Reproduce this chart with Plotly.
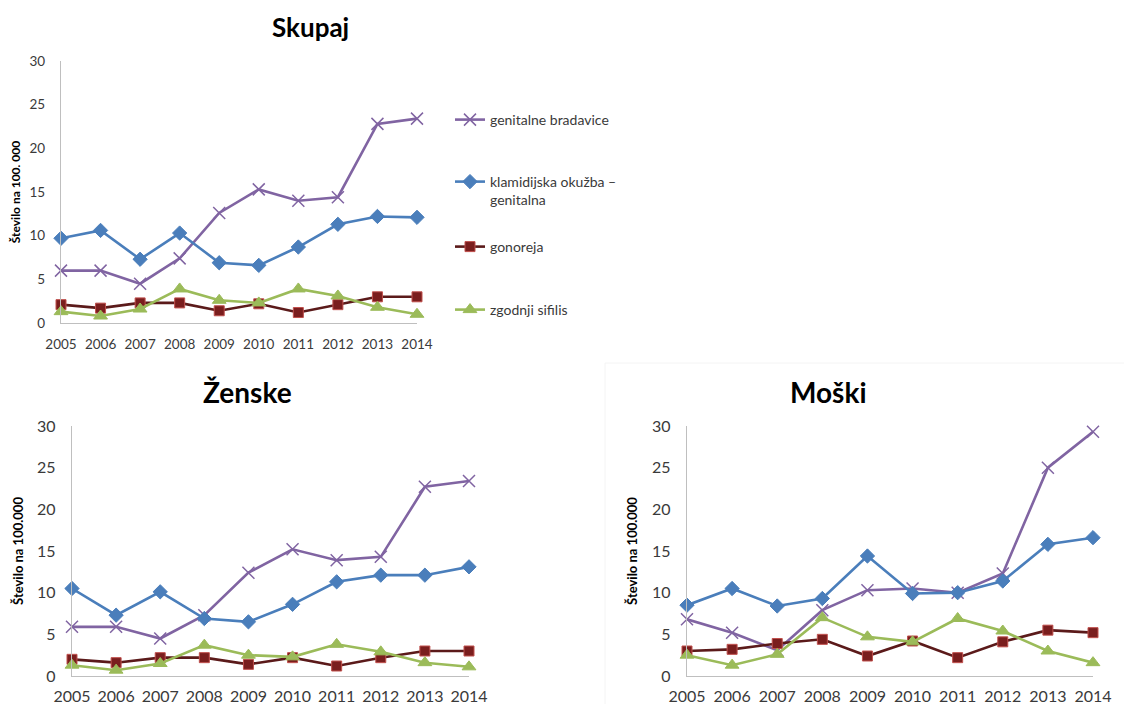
import plotly.graph_objects as go

years = [2005, 2006, 2007, 2008, 2009, 2010, 2011, 2012, 2013, 2014]
series_names = ["genitalne bradavice", "klamidijska okužba –<br>genitalna", "gonoreja", "zgodnji sifilis"]

# Skupaj
skupaj_bradavice = [6.0, 6.0, 4.5, 7.4, 12.6, 15.3, 14.0, 14.4, 22.8, 23.4]
skupaj_klamidija = [9.7, 10.6, 7.3, 10.3, 6.9, 6.6, 8.7, 11.3, 12.2, 12.1]
skupaj_gonoreja = [2.1, 1.7, 2.3, 2.3, 1.4, 2.2, 1.2, 2.1, 3.0, 3.0]
skupaj_sifilis = [1.3, 0.8, 1.6, 3.9, 2.6, 2.3, 3.9, 3.1, 1.8, 1.0]

# Ženske
zenske_bradavice = [5.9, 5.9, 4.5, 7.3, 12.4, 15.2, 13.9, 14.3, 22.7, 23.4]
zenske_klamidija = [10.5, 7.3, 10.1, 6.9, 6.5, 8.6, 11.3, 12.1, 12.1, 13.1]
zenske_gonoreja = [2.0, 1.6, 2.2, 2.2, 1.4, 2.2, 1.2, 2.2, 3.0, 3.0]
zenske_sifilis = [1.3, 0.7, 1.5, 3.7, 2.5, 2.3, 3.8, 2.9, 1.6, 1.1]

# Moški
moski_bradavice = [6.8, 5.2, 3.1, 7.9, 10.3, 10.5, 10.0, 12.3, 25.0, 29.3]
moski_klamidija = [8.5, 10.5, 8.4, 9.3, 14.4, 9.9, 10.0, 11.4, 15.8, 16.6]
moski_gonoreja = [3.0, 3.2, 3.9, 4.4, 2.4, 4.2, 2.2, 4.1, 5.5, 5.2]
moski_sifilis = [2.5, 1.3, 2.6, 7.0, 4.7, 4.1, 6.9, 5.4, 3.0, 1.6]

W, H = 1132, 704
OFF = 8  # page body margin
FONT = "Lato"

styles = [
    dict(line=dict(color="#8064A2", width=2.6),
         marker=dict(symbol="x-thin-open", size=12, line=dict(color="#8064A2", width=1.5), color="#8064A2")),
    dict(line=dict(color="#4A7EBB", width=2.6),
         marker=dict(symbol="diamond", size=11, color="#4A7EBB", line=dict(color="#4A7EBB", width=1))),
    dict(line=dict(color="#5B1A1A", width=2.6),
         marker=dict(symbol="square", size=10, color="#7A1E1E", line=dict(color="#C0504D", width=1))),
    dict(line=dict(color="#9BBB59", width=2.6),
         marker=dict(symbol="triangle-up", size=12, color="#9BBB59", line=dict(color="#9BBB59", width=1))),
]

fig = go.Figure()

panels = [
    ("x", "y", [skupaj_bradavice, skupaj_klamidija, skupaj_gonoreja, skupaj_sifilis], True),
    ("x2", "y2", [zenske_bradavice, zenske_klamidija, zenske_gonoreja, zenske_sifilis], False),
    ("x3", "y3", [moski_bradavice, moski_klamidija, moski_gonoreja, moski_sifilis], False),
]
legend_ids = ["legend", "legend2", "legend3", "legend4"]

for xa, ya, data, show in panels:
    for i, vals in enumerate(data):
        fig.add_trace(go.Scatter(
            x=years, y=vals, mode="lines+markers", name=series_names[i],
            xaxis=xa, yaxis=ya, cliponaxis=False,
            showlegend=show, legend=legend_ids[i],
            **styles[i]))

def px_x(p):
    return (p - OFF) / W

def px_y(p):
    return 1 - (p - OFF) / H

def xaxis(dom, anchor, size, standoff):
    return dict(domain=dom, anchor=anchor, automargin=False,
                range=[2005, 2014], tickmode="array", tickvals=years,
                ticktext=[str(y) for y in years], showgrid=False, zeroline=False,
                showline=True, linecolor="#BFBFBF", linewidth=1.3, ticks="",
                ticklabelstandoff=standoff, tickfont=dict(family=FONT, size=size, color="#3A3A3A"))

def yaxis(dom, anchor, size, title, tsize, tstandoff):
    return dict(domain=dom, anchor=anchor, automargin=False,
                range=[0, 30], dtick=5, showgrid=False, zeroline=False,
                showline=True, linecolor="#BFBFBF", linewidth=1.3, ticks="",
                ticklabelstandoff=12, tickfont=dict(family=FONT, size=size, color="#3A3A3A"),
                title=dict(text=f"<b>{title}</b>", font=dict(family=FONT, size=tsize, color="#000000"),
                           standoff=tstandoff))

fig.update_layout(
    width=W, height=H,
    margin=dict(l=0, r=0, t=0, b=0),
    paper_bgcolor="white", plot_bgcolor="white",
    font=dict(family=FONT, color="#404040"),
    xaxis=xaxis([px_x(61), px_x(417)], "y", 13.5, 9),
    yaxis=yaxis([px_y(323), px_y(61)], "x", 13.5, "Število na 100. 000", 12, 10),
    xaxis2=xaxis([px_x(72), px_x(469)], "y2", 16, 6),
    yaxis2=yaxis([px_y(676), px_y(426)], "x2", 16, "Število na 100.000", 13, 10),
    xaxis3=xaxis([px_x(687), px_x(1093)], "y3", 16, 6),
    yaxis3=yaxis([px_y(676), px_y(426)], "x3", 16, "Število na 100.000", 13, 11),
)

legend_pos = [120, 191, 247, 310]
leg_common = dict(xanchor="left", yanchor="middle", bgcolor="rgba(0,0,0,0)",
                  font=dict(family=FONT, size=14, color="#3A3A3A"), valign="top",
                  itemwidth=30, tracegroupgap=0)
fig.update_layout(
    legend=dict(x=px_x(450), y=px_y(legend_pos[0]), **leg_common),
    legend2=dict(x=px_x(450), y=px_y(legend_pos[1]), **leg_common),
    legend3=dict(x=px_x(450), y=px_y(legend_pos[2]), **leg_common),
    legend4=dict(x=px_x(450), y=px_y(legend_pos[3]), **leg_common),
)

titles = [("Skupaj", 310, 27, 26), ("Ženske", 247, 392, 28), ("Moški", 828, 392, 28)]
for text, cx, cy, fs in titles:
    fig.add_annotation(text=f"<b>{text}</b>", x=px_x(cx), y=px_y(cy), xref="paper", yref="paper",
                       showarrow=False, xanchor="center", yanchor="middle",
                       font=dict(family=FONT, size=fs, color="#000000"))

fig.add_shape(type="rect", xref="paper", yref="paper",
              x0=px_x(605), x1=px_x(1140), y0=px_y(712), y1=px_y(363),
              line=dict(color="#F4F4F4", width=1), layer="below")

fig.write_html("out.html")
